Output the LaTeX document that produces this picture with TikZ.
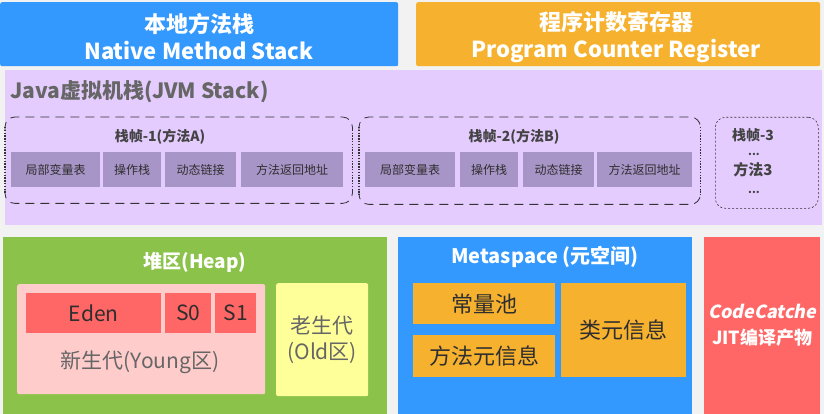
\documentclass[tikz,border=0pt]{standalone}
\usepackage{fontspec}
\setmainfont{Noto Sans CJK SC}
\newfontfamily\slantfont{Noto Sans CJK SC}[FakeSlant=0.2]
\usetikzlibrary{positioning}

\definecolor{pagebg}{HTML}{F2F2F2}
\definecolor{nmsblue}{HTML}{3399FF}
\definecolor{pcorange}{HTML}{F6B22E}
\definecolor{jvmpurple}{HTML}{E4CCFF}
\definecolor{cellpurple}{HTML}{A895C8}
\definecolor{heapgreen}{HTML}{8BC34A}
\definecolor{youngpink}{HTML}{FFCCCC}
\definecolor{edenred}{HTML}{FF6666}
\definecolor{oldyellow}{HTML}{FFFF99}
\definecolor{darktext}{HTML}{2E2E2E}
\definecolor{greytext}{HTML}{666666}
\definecolor{framegray}{HTML}{333333}

\tikzset{
  blockbox/.style={anchor=north west, inner sep=0pt, align=center},
  toptitle/.style={inner sep=0pt, align=center, text=white, font=\bfseries\fontsize{22}{27}\selectfont},
  cellbox/.style={blockbox, fill=cellpurple, minimum height=35pt, text=darktext,
    font=\fontsize{12}{14}\selectfont},
  framebox/.style={blockbox},
  frameedge/.style={draw=framegray, line width=0.8pt, dash pattern=on 9pt off 6pt, rounded corners=10pt},
  frameside/.style={draw=framegray, line width=1.1pt, dash pattern=on 1.4pt off 1.4pt},
  genbox/.style={blockbox, minimum height=40pt, text=darktext,
    font=\fontsize{21}{24}\selectfont},
  metabox/.style={blockbox, fill=pcorange, text=darktext,
    font=\fontsize{22}{26}\selectfont},
  framelabel/.style={inner sep=0pt, text=darktext!90, font=\bfseries\fontsize{14}{16}\selectfont},
}

\begin{document}
\begin{tikzpicture}[x=1pt, y=-1pt]
\fill[pagebg] (0,0) rectangle (824,414);
\useasboundingbox (0,0) rectangle (824,414);

% top row
\node[blockbox, fill=nmsblue, rounded corners=2pt, minimum width=398pt, minimum height=64pt] (nms) at (0,2) {};
\node[toptitle] (nmstext) at (199,37) {本地方法栈\\Native Method Stack};
\node[blockbox, fill=pcorange, rounded corners=2pt, minimum width=404pt, minimum height=64pt] (pcr) at (416,2) {};
\node[toptitle] (pcrtext) at (616,37) {程序计数寄存器\\Program Counter Register};

% jvm stack
\node[blockbox, fill=jvmpurple, minimum width=817pt, minimum height=155pt] (jvm) at (5,70) {};
\node[anchor=west, inner sep=0pt, text=greytext, font=\bfseries\fontsize{21}{24}\selectfont]
  (jvmtitle) at (10,92) {Java虚拟机栈(JVM Stack)};

% frame 1
\node[framebox, minimum width=347pt, minimum height=86pt] (frameA) at (5,117) {};
\draw[frameedge] ([yshift=-14pt]frameA.north west) |- (frameA.north east) -- ([yshift=-14pt]frameA.north east);
\draw[frameedge] ([yshift=14pt]frameA.south west) |- (frameA.south east) -- ([yshift=14pt]frameA.south east);
\draw[frameside] ([yshift=-10pt]frameA.north west) -- ([yshift=10pt]frameA.south west);
\draw[frameside] ([yshift=-10pt]frameA.north east) -- ([yshift=10pt]frameA.south east);
\node[framelabel] (frameAtitle) at (160,137) {栈帧-1(方法A)};
\node[cellbox, minimum width=89pt] (localsA) at (11,152) {局部变量表};
\node[cellbox, minimum width=58pt] (opstackA) at (103,152) {操作栈};
\node[cellbox, minimum width=71pt] (dynlinkA) at (165,152) {动态链接};
\node[cellbox, minimum width=102pt] (retaddrA) at (241,152) {方法返回地址};

% frame 2
\node[framebox, minimum width=341pt, minimum height=87pt] (frameB) at (359,117) {};
\draw[frameedge] ([yshift=-14pt]frameB.north west) |- (frameB.north east) -- ([yshift=-14pt]frameB.north east);
\draw[frameedge] ([yshift=14pt]frameB.south west) |- (frameB.south east) -- ([yshift=14pt]frameB.south east);
\draw[frameside] ([yshift=-10pt]frameB.north west) -- ([yshift=10pt]frameB.south west);
\draw[frameside] ([yshift=-10pt]frameB.north east) -- ([yshift=10pt]frameB.south east);
\node[framelabel] (frameBtitle) at (514,137) {栈帧-2(方法B)};
\node[cellbox, minimum width=90pt] (localsB) at (365,152) {局部变量表};
\node[cellbox, minimum width=58pt] (opstackB) at (460,152) {操作栈};
\node[cellbox, minimum width=71pt] (dynlinkB) at (523,152) {动态链接};
\node[cellbox, minimum width=95pt] (retaddrB) at (597,152) {方法返回地址};

% frame 3
\node[blockbox, draw=framegray, dash pattern=on 2pt off 2pt, line width=0.6pt, rounded corners=10pt,
  minimum width=103pt, minimum height=91pt] (frameC) at (715,117) {};
\node[framelabel] (frameCtitle) at (753,135) {栈帧-3};
\node[framelabel, font=\bfseries\fontsize{11}{12}\selectfont] (dotsC1) at (754,154) {...};
\node[framelabel, font=\bfseries\fontsize{15}{17}\selectfont] (methodC) at (753,170) {方法3};
\node[framelabel, font=\bfseries\fontsize{11}{12}\selectfont] (dotsC2) at (754,192) {...};

% heap
\node[blockbox, fill=heapgreen, minimum width=384pt, minimum height=177pt] (heap) at (3,237) {};
\node[text=white, font=\bfseries\fontsize{19}{22}\selectfont] (heaptitle) at (195,262) {堆区(Heap)};
\node[blockbox, fill=youngpink, rounded corners=2pt, minimum width=248pt, minimum height=110pt]
  (young) at (17,284) {};
\node[genbox, fill=edenred, minimum width=135pt] (eden) at (26,293) {Eden};
\node[genbox, fill=edenred, minimum width=46pt] (szero) at (165,293) {S0};
\node[genbox, fill=edenred, minimum width=41pt] (sone) at (215,293) {S1};
\node[text=greytext, font=\fontsize{21}{24}\selectfont] (younglabel) at (140,362) {新生代(Young区)};
\node[blockbox, fill=oldyellow, rounded corners=2pt, minimum width=92pt, minimum height=113pt,
  text=greytext, font=\fontsize{21}{26}\selectfont] (old) at (276,283) {老生代\\(Old区)};

% metaspace
\node[blockbox, fill=nmsblue, minimum width=294pt, minimum height=177pt] (meta) at (398,237) {};
\node[text=white, font=\bfseries\fontsize{20}{24}\selectfont] (metatitle) at (545,257) {Metaspace (元空间)};
\node[metabox, minimum width=142pt, minimum height=41pt] (constpool) at (413,283) {常量池};
\node[metabox, minimum width=142pt, minimum height=42pt] (methodmeta) at (413,335) {方法元信息};
\node[metabox, minimum width=125pt, minimum height=94pt] (classmeta) at (561,283) {类元信息};

% code cache
\node[blockbox, fill=edenred, minimum width=116pt, minimum height=177pt, text=white,
  font=\bfseries\fontsize{18}{26}\selectfont] (codecache) at (704,237)
  {{\slantfont\bfseries CodeCatche}\\JIT编译产物};
\end{tikzpicture}
\end{document}
